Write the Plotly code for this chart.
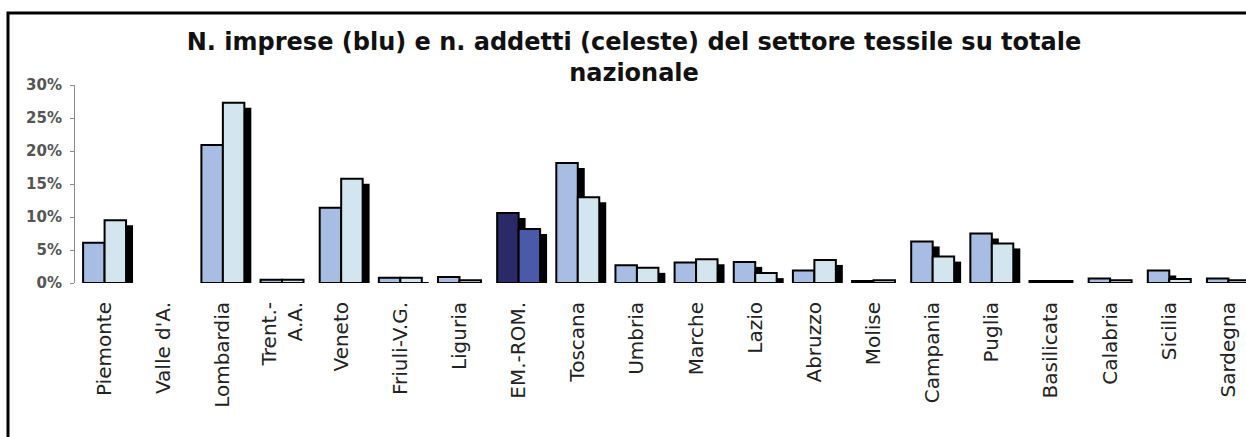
import plotly.graph_objects as go

# Regional share of the national textile sector (%)
regioni = [
    "Piemonte", "Valle d'A.", "Lombardia", "Trent.-<br>A.A.", "Veneto",
    "Friuli-V.G.", "Liguria", "EM.-ROM.", "Toscana", "Umbria", "Marche",
    "Lazio", "Abruzzo", "Molise", "Campania", "Puglia", "Basilicata",
    "Calabria", "Sicilia", "Sardegna",
]
# Valle d'A. has no bar
imprese = [6.1, None, 20.9, 0.5, 11.4, 0.8, 0.9, 10.6, 18.2, 2.7, 3.1,
           3.2, 1.9, 0.3, 6.3, 7.5, 0.3, 0.7, 1.9, 0.7]
addetti = [9.5, None, 27.3, 0.5, 15.8, 0.8, 0.4, 8.2, 13.0, 2.3, 3.6,
           1.5, 3.5, 0.4, 4.0, 6.0, 0.3, 0.4, 0.6, 0.4]
y_ticks = [0, 5, 10, 15, 20, 25, 30]
y_tick_text = [f"{v}%" for v in y_ticks]
evidenziata = "EM.-ROM."

W, H = 1246, 437
M_L, M_R, M_T, M_B = 75, 0, 85, 154

COL_IMP, COL_ADD = "#A7BDE3", "#D3E5EE"
COL_IMP_HI, COL_ADD_HI = "#2C2968", "#4A5AA8"

BAR_W = 0.363      # width of each bar in category units
SH_DX = 0.118      # shadow shift to the right (category units)
SH_DY = 0.76       # shadow drop (percentage points)

col_imp = [COL_IMP_HI if r == evidenziata else COL_IMP for r in regioni]
col_add = [COL_ADD_HI if r == evidenziata else COL_ADD for r in regioni]


def shadow(values):
    return [None if v is None else max(v - SH_DY, 0) for v in values]


fig = go.Figure()
# drop shadows first, bars on top
fig.add_trace(go.Bar(x=regioni, y=shadow(imprese), offset=-BAR_W + SH_DX, width=BAR_W,
                     marker=dict(color="black", line=dict(width=0)), hoverinfo="skip"))
fig.add_trace(go.Bar(x=regioni, y=shadow(addetti), offset=SH_DX, width=BAR_W,
                     marker=dict(color="black", line=dict(width=0)), hoverinfo="skip"))
fig.add_trace(go.Bar(x=regioni, y=imprese, offset=-BAR_W, width=BAR_W, name="N. imprese",
                     marker=dict(color=col_imp, line=dict(color="black", width=2))))
fig.add_trace(go.Bar(x=regioni, y=addetti, offset=0, width=BAR_W, name="N. addetti",
                     marker=dict(color=col_add, line=dict(color="black", width=2))))

plot_w = W - M_L - M_R
plot_h = H - M_T - M_B


def px_x(px):
    return (px - M_L) / plot_w


def px_y(py):
    return (H - M_B - py) / plot_h


# outer chart frame (left and top edges)
frame = dict(type="path", xref="paper", yref="paper",
             path=f"M {px_x(8)},{px_y(H + 5)} L {px_x(8)},{px_y(13)} L {px_x(W + 5)},{px_y(13)}",
             line=dict(color="black", width=3))

fig.update_layout(
    width=W, height=H,
    margin=dict(l=M_L, r=M_R, t=M_T, b=M_B),
    paper_bgcolor="white", plot_bgcolor="white",
    barmode="overlay", showlegend=False,
    font=dict(family="DejaVu Sans", color="#222"),
    title=dict(
        text="N. imprese (blu) e n. addetti (celeste) del settore tessile su totale<br>nazionale",
        x=634 / W, xref="container", xanchor="center",
        y=1 - 50 / H, yref="container", yanchor="top",
        font=dict(family="DejaVu Sans", size=24, color="#111", weight="bold"),
    ),
    xaxis=dict(
        range=[-0.5, -0.5 + plot_w / 59.15],
        showline=False, showgrid=False, zeroline=False, ticks="",
        tickangle=-90, tickfont=dict(size=20, color="#222"),
        ticklabelstandoff=14,
    ),
    yaxis=dict(
        range=[0, 30], tickmode="array", tickvals=y_ticks, ticktext=y_tick_text,
        showline=True, linecolor="#8a8a8a", linewidth=1,
        ticks="outside", ticklen=4, tickcolor="#8a8a8a",
        showgrid=False, zeroline=False,
        tickfont=dict(size=15, color="#555", weight="bold"),
        ticklabelstandoff=5,
    ),
    shapes=[frame],
)

fig.write_html("out.html")
